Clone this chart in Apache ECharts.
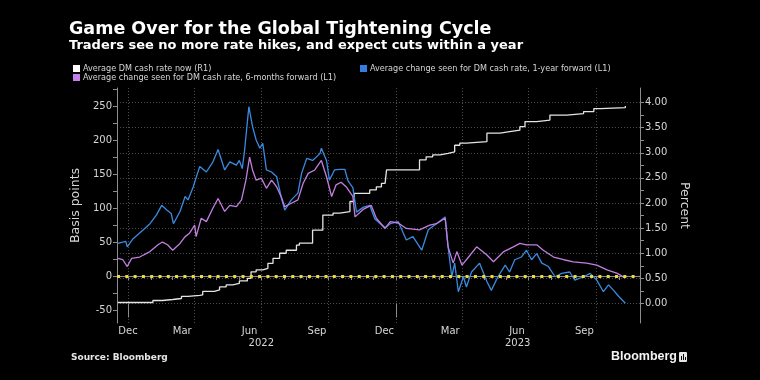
<!DOCTYPE html>
<html>
<head>
<meta charset="utf-8">
<script src="https://cdn.jsdelivr.net/npm/echarts@6/dist/echarts.min.js"></script>
<style>
html,body{margin:0;padding:0;background:#000;}
#c{width:760px;height:380px;}
</style>
</head>
<body>
<div id="c"></div>
<script>
// ---- Data ----
const cashRateDates = ['2021-12-17','2022-02-03','2022-02-16','2022-03-02','2022-03-14','2022-03-23','2022-04-08','2022-04-12','2022-04-28','2022-05-05','2022-05-14','2022-05-23','2022-06-01','2022-06-12','2022-06-17','2022-06-24','2022-07-03','2022-07-10','2022-07-17','2022-07-26','2022-08-04','2022-08-18','2022-08-22','2022-09-09','2022-09-23','2022-10-07','2022-10-16','2022-10-30','2022-11-05','2022-11-26','2022-12-05','2022-12-12','2022-12-17','2022-12-19','2023-02-02','2023-02-11','2023-02-20','2023-03-02','2023-03-13','2023-03-22','2023-03-29','2023-04-07','2023-05-05','2023-05-23','2023-06-05','2023-06-19','2023-06-26','2023-07-12','2023-07-30','2023-08-22','2023-09-14','2023-09-28','2023-10-07','2023-11-10'];
const cashRateNow = [0.02,0.06,0.08,0.10,0.14,0.16,0.17,0.24,0.27,0.33,0.37,0.40,0.45,0.50,0.63,0.67,0.70,0.80,0.90,1.00,1.06,1.16,1.20,1.46,1.76,1.80,1.83,2.03,2.19,2.26,2.32,2.39,2.42,2.66,2.86,2.92,2.96,2.99,3.02,3.15,3.19,3.22,3.39,3.42,3.45,3.52,3.62,3.65,3.75,3.78,3.82,3.88,3.90,3.93];

const fwd1yDates = ['2021-12-17','2021-12-28','2021-12-30','2022-01-07','2022-01-21','2022-01-30','2022-02-08','2022-02-15','2022-02-22','2022-02-28','2022-03-03','2022-03-12','2022-03-19','2022-03-23','2022-03-30','2022-04-04','2022-04-08','2022-04-17','2022-04-26','2022-05-03','2022-05-12','2022-05-19','2022-05-28','2022-06-01','2022-06-05','2022-06-08','2022-06-14','2022-06-19','2022-06-24','2022-06-29','2022-07-03','2022-07-08','2022-07-15','2022-07-22','2022-07-28','2022-08-02','2022-08-11','2022-08-20','2022-08-25','2022-09-01','2022-09-09','2022-09-19','2022-09-21','2022-09-28','2022-10-02','2022-10-09','2022-10-16','2022-10-23','2022-10-27','2022-10-30','2022-11-03','2022-11-08','2022-11-17','2022-11-26','2022-12-03','2022-12-17','2022-12-24','2023-01-04','2023-01-15','2023-01-24','2023-02-05','2023-02-14','2023-02-25','2023-03-09','2023-03-13','2023-03-18','2023-03-22','2023-03-27','2023-04-03','2023-04-07','2023-04-14','2023-04-25','2023-05-05','2023-05-11','2023-05-20','2023-05-30','2023-06-05','2023-06-12','2023-06-21','2023-06-28','2023-07-05','2023-07-12','2023-07-19','2023-07-28','2023-08-06','2023-08-15','2023-08-26','2023-09-02','2023-09-14','2023-09-23','2023-10-02','2023-10-11','2023-10-18','2023-10-25','2023-11-01','2023-11-10'];
const fwd1y = [48,51,43,55,68,77,90,104,97,92,77,95,117,112,131,148,161,153,168,186,156,168,163,170,158,183,249,220,200,188,195,156,153,146,117,97,112,122,151,173,170,180,188,170,141,156,157,157,141,136,130,94,101,104,84,71,77,80,53,58,38,68,77,87,43,-1,19,-23,-1,-16,6,19,-8,-21,-1,16,6,24,28,38,24,33,19,14,-1,4,6,-6,-1,4,-6,-23,-13,-21,-30,-40];

const fwd6mDates = ['2021-12-17','2021-12-24','2021-12-30','2022-01-05','2022-01-16','2022-01-30','2022-02-10','2022-02-16','2022-02-23','2022-03-02','2022-03-12','2022-03-19','2022-03-25','2022-04-01','2022-04-03','2022-04-10','2022-04-17','2022-04-26','2022-05-03','2022-05-12','2022-05-19','2022-05-28','2022-06-04','2022-06-10','2022-06-15','2022-06-19','2022-06-24','2022-07-01','2022-07-08','2022-07-15','2022-07-22','2022-07-28','2022-08-02','2022-08-11','2022-08-20','2022-08-27','2022-09-03','2022-09-12','2022-09-21','2022-09-28','2022-10-05','2022-10-11','2022-10-18','2022-10-25','2022-11-03','2022-11-06','2022-11-17','2022-11-28','2022-12-05','2022-12-17','2022-12-24','2023-01-04','2023-01-15','2023-02-02','2023-02-16','2023-02-25','2023-03-09','2023-03-13','2023-03-20','2023-03-25','2023-04-01','2023-04-10','2023-04-21','2023-05-05','2023-05-14','2023-05-28','2023-06-10','2023-06-19','2023-06-28','2023-07-12','2023-07-21','2023-08-04','2023-08-18','2023-08-31','2023-09-18','2023-10-02','2023-10-16','2023-10-30','2023-11-10'];
const fwd6m = [26,24,14,26,28,36,46,50,46,38,48,58,63,75,58,85,80,100,114,95,104,102,112,141,175,156,141,144,129,141,131,117,102,107,112,136,151,156,170,146,117,134,138,131,117,87,98,104,85,70,80,78,70,68,75,77,85,43,19,36,16,28,43,31,21,36,43,48,46,46,38,28,24,21,19,16,9,4,-3];

// ---- Axis ticks / labels ----
const monthLabels = ['Dec','Mar','Jun','Sep','Dec','Mar','Jun','Sep'];
const monthLabelDates = ['2021-12-31','2022-03-15','2022-06-15','2022-09-15','2022-12-16','2023-03-16','2023-06-15','2023-09-15'];
const yearLabels = ['2022','2023'];
const yearLabelDates = ['2022-07-01','2023-06-16'];
const yearStartDates = ['2022-01-01','2023-01-01'];
const quarterStartDates = ['2022-01-01','2022-04-01','2022-07-01','2022-10-01','2023-01-01','2023-04-01','2023-07-01','2023-10-01'];
const monthStartDates = ['2022-01-01','2022-02-01','2022-03-01','2022-04-01','2022-05-01','2022-06-01','2022-07-01','2022-08-01','2022-09-01','2022-10-01','2022-11-01','2022-12-01','2023-01-01','2023-02-01','2023-03-01','2023-04-01','2023-05-01','2023-06-01','2023-07-01','2023-08-01','2023-09-01','2023-10-01','2023-11-01'];
const leftLabels = [-50,0,50,100,150,200,250];
const leftTicks = [-50,-25,0,25,50,75,100,125,150,175,200,225,250,275];
const rightLabels = [0,0.5,1,1.5,2,2.5,3,3.5,4];
const rightTicks = [0,0.25,0.5,0.75,1,1.25,1.5,1.75,2,2.25,2.5,2.75,3,3.25,3.5,3.75,4];

const NAME_NOW = 'Average DM cash rate now (R1)';
const NAME_1Y = 'Average change seen for DM cash rate, 1-year forward (L1)';
const NAME_6M = 'Average change seen for DM cash rate, 6-months forward (L1)';

// ---- Build ----
const ts = s => Date.parse(s);
const zip = (d, v) => d.map((x, i) => [ts(x), v[i]]);
const xMin = ts('2021-12-16'), xMax = ts('2023-11-30');
const monthMap = {}; monthLabelDates.forEach((d, i) => monthMap[ts(d)] = monthLabels[i]);
const yearMap = {}; yearLabelDates.forEach((d, i) => yearMap[ts(d)] = yearLabels[i]);

const FONT = "'DejaVu Sans', sans-serif";
const LFONT = "'DejaVu Sans Condensed', 'Liberation Sans Narrow', 'DejaVu Sans', sans-serif";
const AXIS = '#8c8c8c';
const TXT = '#d6d6d6';
const GRID = '#4d4d4d';

const chart = echarts.init(document.getElementById('c'), null, {renderer: 'canvas'});
const legendBase = {
  orient: 'horizontal', icon: 'rect', itemWidth: 7, itemHeight: 7, padding: 0, selectedMode: false,
  textStyle: {color: TXT, fontSize: 9, fontFamily: LFONT, padding: [0, 0, 0, -2]}
};
chart.setOption({
  backgroundColor: '#000',
  animation: false,
  title: [
    {text: 'Game Over for the Global Tightening Cycle', left: 69, top: 20, padding: 0,
     textStyle: {color: '#fff', fontSize: 17.5, fontWeight: 'bold', fontFamily: FONT}},
    {text: 'Traders see no more rate hikes, and expect cuts within a year', left: 69, top: 39.5, padding: 0,
     textStyle: {color: '#fff', fontSize: 13, fontWeight: 'bold', fontFamily: FONT}},
    {text: 'Source: Bloomberg', left: 71, top: 353, padding: 0,
     textStyle: {color: '#e6e6e6', fontSize: 9, fontWeight: 'bold', fontFamily: FONT}},
    {text: 'Bloomberg', left: 611, top: 350, padding: 0,
     textStyle: {color: '#f2f2f2', fontSize: 12.5, fontWeight: 'bold', fontFamily: "'Liberation Sans', sans-serif"}}
  ],
  graphic: [
    {type: 'rect', left: 679, top: 352, shape: {width: 8, height: 10, r: 1}, style: {fill: '#e6e6e6'}},
    {type: 'rect', left: 681, top: 356, shape: {width: 1, height: 4}, style: {fill: '#000'}},
    {type: 'rect', left: 683, top: 354, shape: {width: 1, height: 6}, style: {fill: '#000'}},
    {type: 'rect', left: 685, top: 357, shape: {width: 1, height: 3}, style: {fill: '#000'}}
  ],
  legend: [
    Object.assign({}, legendBase, {data: [NAME_NOW], left: 73, top: 64}),
    Object.assign({}, legendBase, {data: [NAME_1Y], left: 360, top: 64}),
    Object.assign({}, legendBase, {data: [NAME_6M], left: 73, top: 73})
  ],
  grid: {left: 117, right: 120, top: 88, bottom: 57, containLabel: false},
  xAxis: [
    {type: 'value', min: xMin, max: xMax, position: 'bottom',
     axisLine: {show: true, lineStyle: {color: AXIS, width: 1}},
     axisTick: {show: true, customValues: monthStartDates.map(ts), length: 4, lineStyle: {color: AXIS}},
     axisLabel: {show: true, customValues: monthLabelDates.map(ts), formatter: v => monthMap[v] || '',
                 color: TXT, fontSize: 10, fontFamily: FONT, margin: 3},
     splitLine: {show: false}},
    {type: 'value', min: xMin, max: xMax, position: 'bottom',
     axisLine: {show: false}, axisTick: {show: false, customValues: quarterStartDates.map(ts)},
     axisLabel: {show: false},
     splitLine: {show: true, lineStyle: {color: GRID, width: 1, type: [1, 2]}}},
    {type: 'value', min: xMin, max: xMax, position: 'bottom', offset: 13,
     axisLine: {show: false},
     axisTick: {show: true, customValues: yearStartDates.map(ts), length: 14, lineStyle: {color: AXIS}},
     axisLabel: {show: true, customValues: yearLabelDates.map(ts), formatter: v => yearMap[v] || '',
                 color: TXT, fontSize: 10, fontFamily: FONT, margin: 2},
     splitLine: {show: false}}
  ],
  yAxis: [
    {type: 'value', position: 'left', min: -69, max: 276.5,
     name: 'Basis points', nameLocation: 'middle', nameGap: 33, nameRotate: 90,
     nameTextStyle: {color: TXT, fontSize: 12.5, fontFamily: FONT},
     axisLine: {show: true, lineStyle: {color: AXIS}},
     axisTick: {show: true, customValues: leftTicks, length: 4, lineStyle: {color: AXIS}},
     axisLabel: {customValues: leftLabels, color: TXT, fontSize: 10, fontFamily: FONT, margin: 5},
     splitLine: {show: false}},
    {type: 'value', position: 'right', min: -0.388, max: 4.289,
     name: 'Percent', nameLocation: 'middle', nameGap: 35, nameRotate: -90,
     nameTextStyle: {color: TXT, fontSize: 12.5, fontFamily: FONT},
     axisLine: {show: true, lineStyle: {color: AXIS}},
     axisTick: {show: true, customValues: rightTicks, length: 4, lineStyle: {color: AXIS}},
     axisLabel: {customValues: rightLabels, formatter: v => v.toFixed(2), color: TXT, fontSize: 10, fontFamily: FONT, margin: 5},
     splitLine: {show: false}},
    {type: 'value', position: 'left', min: -0.388, max: 4.289,
     axisLine: {show: false}, axisTick: {show: false, customValues: rightLabels}, axisLabel: {show: false},
     splitLine: {show: true, lineStyle: {color: GRID, width: 1, type: [1, 2]}}}
  ],
  series: [
    {name: NAME_NOW, type: 'line', xAxisIndex: 0, yAxisIndex: 1, step: 'end',
     data: zip(cashRateDates, cashRateNow), showSymbol: false, symbol: 'none',
     itemStyle: {color: '#ffffff'}, lineStyle: {color: '#e4e4e4', width: 1.3}},
    {name: NAME_1Y, type: 'line', xAxisIndex: 0, yAxisIndex: 0,
     data: zip(fwd1yDates, fwd1y), showSymbol: false, symbol: 'none',
     itemStyle: {color: '#2f80e0'}, lineStyle: {color: '#3a8ae0', width: 1.3},
     markLine: {silent: true, symbol: 'none', label: {show: false}, z: 10,
                lineStyle: {color: '#e8dc3a', width: 3, type: [3, 5.3]},
                data: [{yAxis: 0}]}},
    {name: NAME_6M, type: 'line', xAxisIndex: 0, yAxisIndex: 0,
     data: zip(fwd6mDates, fwd6m), showSymbol: false, symbol: 'none',
     itemStyle: {color: '#c47fe8'}, lineStyle: {color: '#c27ee0', width: 1.3}}
  ]
});
</script>
</body>
</html>
